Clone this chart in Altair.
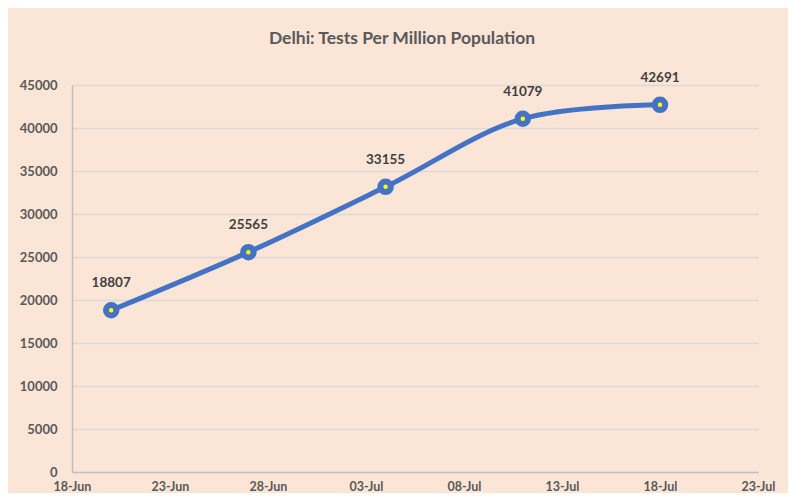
import altair as alt
import pandas as pd

dates = ["2020/06/20", "2020/06/27", "2020/07/04", "2020/07/11", "2020/07/18"]
tests_per_million = [18807, 25565, 33155, 41079, 42691]
x_ticks = ["2020/06/18", "2020/06/23", "2020/06/28", "2020/07/03",
           "2020/07/08", "2020/07/13", "2020/07/18", "2020/07/23"]
y_ticks = list(range(0, 45001, 5000))

df = pd.DataFrame({"date": dates, "value": tests_per_million})

FONT = "Lato"
LABEL_COLOR = "#595959"

def dt(s):
    y, m, d = s.split("/")
    return alt.DateTime(year=int(y), month=int(m), date=int(d))

x = alt.X(
    "date:T",
    scale=alt.Scale(domain=[dt(x_ticks[0]), dt(x_ticks[-1])]),
    axis=alt.Axis(
        values=[dt(s) for s in x_ticks],
        format="%d-%b",
        title=None,
        grid=False,
        ticks=False,
        labelPadding=8,
        labelFont=FONT,
        labelFontSize=12.5,
        labelFontWeight="bold",
        labelColor=LABEL_COLOR,
        domainColor="#BFBFBF",
        domainWidth=1.5,
        labelOverlap=False,
        labelFlush=False,
    ),
)
y = alt.Y(
    "value:Q",
    scale=alt.Scale(domain=[0, 45000], nice=False),
    axis=alt.Axis(
        values=y_ticks,
        title=None,
        grid=True,
        gridColor="#D9D9D9",
        gridWidth=1.5,
        ticks=False,
        labelPadding=15,
        labelFont=FONT,
        labelFontSize=13,
        labelFontWeight="bold",
        labelColor=LABEL_COLOR,
        domainColor="#BFBFBF",
        domainWidth=1.5,
        format="d",
    ),
)

base = alt.Chart(df).encode(x=x, y=y)

line = base.mark_line(color="#4472C4", strokeWidth=5, interpolate="catmull-rom")
points = base.mark_point(
    filled=False, fill="#FFFF00", fillOpacity=1, stroke="#4472C4",
    strokeWidth=6, size=110, opacity=1,
)
labels = base.mark_text(
    dy=-27, font=FONT, fontSize=13.5, fontWeight="bold", color="#404040"
).encode(text=alt.Text("value:Q", format="d"))

chart = (
    alt.layer(line, points, labels)
    .properties(
        width=686,
        height=387,
        autosize=alt.AutoSizeParams(type="none"),
        padding={"left": 64, "top": 77, "right": 30, "bottom": 21},
        background="#FBE5D6",
        title=alt.TitleParams(
            "Delhi: Tests Per Million Population",
            font=FONT, fontSize=17.5, fontWeight="bold", color=LABEL_COLOR,
            anchor="middle", dx=-13, offset=23,
        ),
    )
    .configure_view(stroke=None)
)

chart.save("out.html", embed_options={"renderer": "svg", "actions": False})
